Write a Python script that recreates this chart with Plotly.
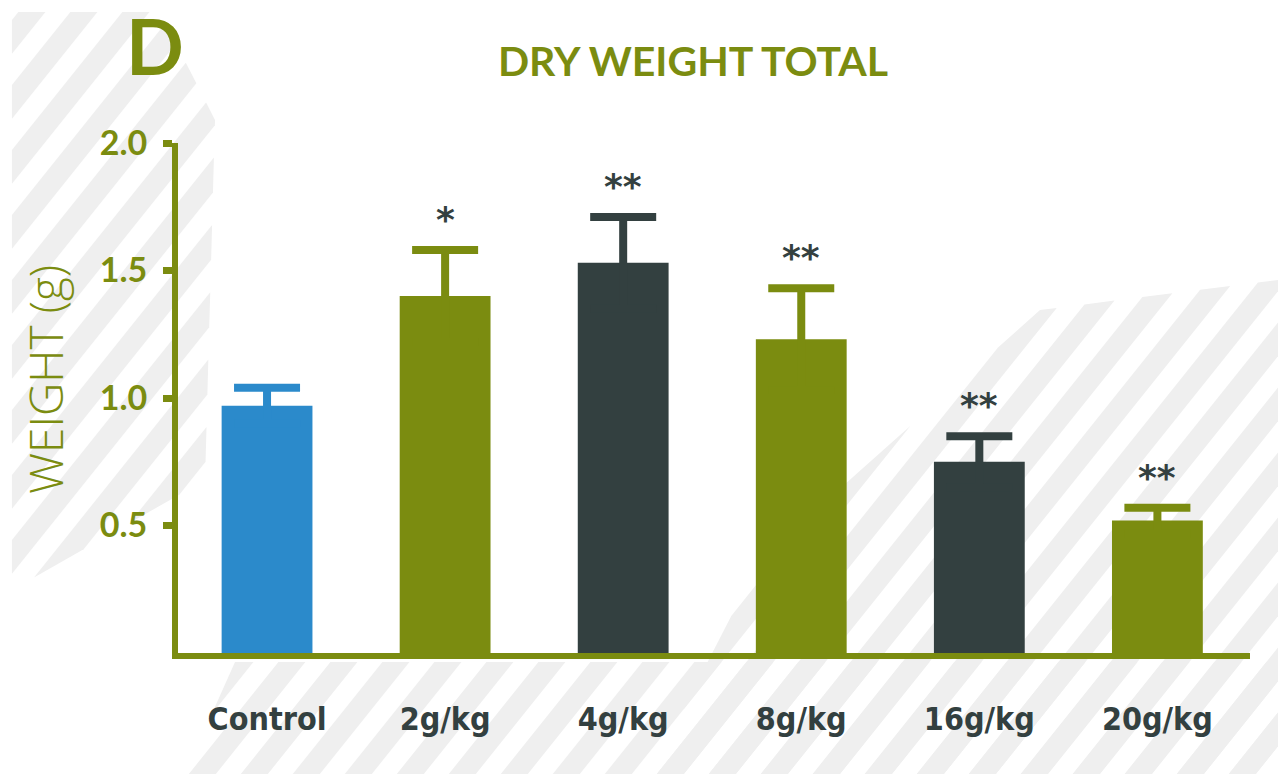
import plotly.graph_objects as go

# dry weight per group (g)
groups = ["Control", "2g/kg", "4g/kg", "8g/kg", "16g/kg", "20g/kg"]
weight = [0.97, 1.40, 1.53, 1.23, 0.75, 0.52]
sem = [0.07, 0.18, 0.18, 0.20, 0.10, 0.05]
stars = ["", "*", "**", "**", "**", "**"]
ytick_vals = [0.5, 1.0, 1.5, 2.0]
ytick_text = ["0.5", "1.0", "1.5", "2.0"]

OLIVE = "#7b8c10"
DARK = "#334040"
BLUE = "#2b8acb"
STRIPE = "#efefef"
bar_colors = [BLUE, OLIVE, DARK, OLIVE, DARK, OLIVE]

W, H = 1278, 774
L, R, T, B = 178, 28, 143, 121
pw, ph = W - L - R, H - T - B


def to_paper(px, py):
	return (px - L) / pw, (H - B - py) / ph


def clip(poly, region):
	# sutherland-hodgman against a convex region
	area = sum(region[i][0] * region[i - 1][1] - region[i - 1][0] * region[i][1] for i in range(len(region)))
	sgn = 1 if area > 0 else -1

	def inside(p, a, b):
		return sgn * ((a[0] - b[0]) * (p[1] - b[1]) - (a[1] - b[1]) * (p[0] - b[0])) >= 0

	def cross_pt(p, q, a, b):
		x1, y1 = p; x2, y2 = q; x3, y3 = a; x4, y4 = b
		d = (x1 - x2) * (y3 - y4) - (y1 - y2) * (x3 - x4)
		t = ((x1 - x3) * (y3 - y4) - (y1 - y3) * (x3 - x4)) / d
		return x1 + t * (x2 - x1), y1 + t * (y2 - y1)

	out = poly
	for i in range(len(region)):
		a, b = region[i - 1], region[i]
		src, out = out, []
		if not src:
			break
		for j in range(len(src)):
			p, q = src[j - 1], src[j]
			if inside(q, a, b):
				if not inside(p, a, b):
					out.append(cross_pt(p, q, a, b))
				out.append(q)
			elif inside(p, a, b):
				out.append(cross_pt(p, q, a, b))
	return out


# background hatching areas (pixel coords)
regions = [
	[(12, 12), (160, 12), (215, 120), (205, 480), (12, 590)],
	[(650, 774), (760, 560), (1040, 310), (1278, 280), (1278, 774)],
	[(185, 774), (235, 662), (1278, 662), (1278, 774)],
]

shapes = []
for c in range(-900, 1400, 52):
	stripe = [(c, 900), (c + 27, 900), (c + 27 + 800, -100), (c + 800, -100)]
	for reg in regions:
		pts = clip(stripe, reg)
		if len(pts) < 3:
			continue
		path = "M " + " L ".join("%.4f,%.4f" % to_paper(*p) for p in pts) + " Z"
		shapes.append(dict(type="path", xref="paper", yref="paper", path=path,
		                   fillcolor=STRIPE, line=dict(width=0), layer="below"))

fig = go.Figure()
for g, w, e, col in zip(groups, weight, sem, bar_colors):
	fig.add_trace(go.Bar(
		x=[g], y=[w], width=0.51, marker=dict(color=col, line=dict(width=0)),
		error_y=dict(type="data", array=[e], color=col, thickness=8, width=33),
		showlegend=False,
	))

for g, w, e, s in zip(groups, weight, sem, stars):
	if s:
		fig.add_annotation(x=g, y=w + e, text=s, showarrow=False, yanchor="bottom", yshift=8,
		                   font=dict(family="DejaVu Sans", size=36, color=DARK, weight="bold"))

fig.add_annotation(xref="paper", yref="paper", x=to_paper(155, 0)[0], y=1.0, yshift=T + 2,
                   text="D", showarrow=False, xanchor="center", yanchor="top",
                   font=dict(family="Lato", size=76, color=OLIVE, weight="bold"))

fig.add_annotation(xref="paper", yref="paper", x=to_paper(45, 0)[0], y=to_paper(0, 380)[1],
                   text="WEIGHT (g)", textangle=-90, showarrow=False,
                   xanchor="center", yanchor="middle",
                   font=dict(family="Open Sans", size=46, color=OLIVE, weight=300))

fig.update_layout(
	width=W, height=H,
	margin=dict(l=L, r=R, t=T, b=B),
	paper_bgcolor="white", plot_bgcolor="rgba(0,0,0,0)",
	barmode="overlay",
	shapes=shapes,
	title=dict(text="DRY WEIGHT TOTAL", x=693 / W, xanchor="center", y=1 - 62 / H, yanchor="middle",
	           font=dict(family="Lato", size=41, color=OLIVE, weight="bold")),
)
fig.update_xaxes(
	range=[-0.5, 5.52], showgrid=False, zeroline=False,
	showline=True, linecolor=OLIVE, linewidth=6, ticks="",
	tickfont=dict(family="DejaVu Sans Condensed, Roboto, sans-serif", size=32, color=DARK, weight="bold"),
	ticklabelstandoff=33,
)
fig.update_yaxes(
	range=[0, 2.0], showgrid=False, zeroline=False,
	showline=True, linecolor=OLIVE, linewidth=6,
	tickvals=ytick_vals, ticktext=ytick_text,
	ticks="outside", ticklen=9, tickwidth=7, tickcolor=OLIVE,
	tickfont=dict(family="Lato", size=34, color=OLIVE, weight="bold"),
	ticklabelstandoff=9,
)

fig.write_html("out.html", config={"displayModeBar": False},
               post_script="document.body.style.margin='0';document.body.style.overflow='hidden';")
